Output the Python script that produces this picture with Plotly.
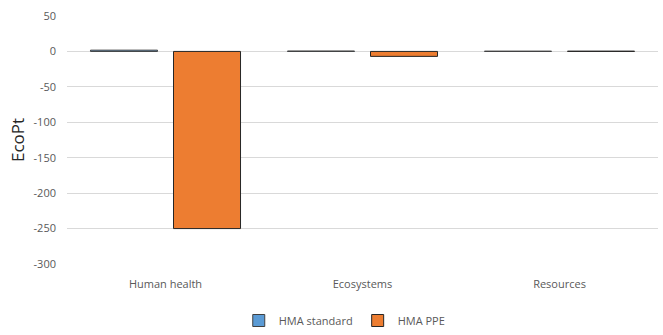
import plotly.graph_objects as go

categories = ["Human health", "Ecosystems", "Resources"]
hma_standard = [1.8, 0.6, 0.4]
hma_ppe = [-250, -7, 0.4]
tick_vals = [50, 0, -50, -100, -150, -200, -250, -300]
tick_text = ["50", "0", "-50", "-100", "-150", "-200", "-250", "-300"]

fig = go.Figure()
fig.add_trace(go.Bar(x=categories, y=hma_standard, name="HMA standard",
                     marker=dict(color="#5B9BD5", line=dict(color="#404040", width=1))))
fig.add_trace(go.Bar(x=categories, y=hma_ppe, name="HMA PPE",
                     marker=dict(color="#ED7D31", line=dict(color="#262626", width=1))))

fig.update_layout(
    width=663, height=335,
    margin=dict(l=67, r=5, t=16, b=71),
    paper_bgcolor="white", plot_bgcolor="white",
    barmode="group", bargap=0.157, bargroupgap=0.193,
    font=dict(family="Open Sans, Calibri, sans-serif", color="#595959", size=11),
    legend=dict(orientation="h", x=0.52, xanchor="center", xref="container",
                y=-0.008, yanchor="bottom", yref="container",
                font=dict(size=11, color="#595959"), traceorder="normal",
                itemwidth=30, tracegroupgap=0),
    yaxis=dict(range=[-300, 50], tickvals=tick_vals, ticktext=tick_text,
               showgrid=True, gridcolor="#D9D9D9",
               zeroline=True, zerolinecolor="#D9D9D9", zerolinewidth=1,
               title=dict(text="EcoPt", font=dict(size=17, color="#262626"), standoff=4),
               tickfont=dict(size=11, color="#595959"), ticks="", showline=False,
               ticklabelstandoff=10),
    xaxis=dict(showgrid=False, showline=False, ticks="",
               tickfont=dict(size=11, color="#595959"), ticklabelstandoff=12),
)

fig.write_html("out.html")
